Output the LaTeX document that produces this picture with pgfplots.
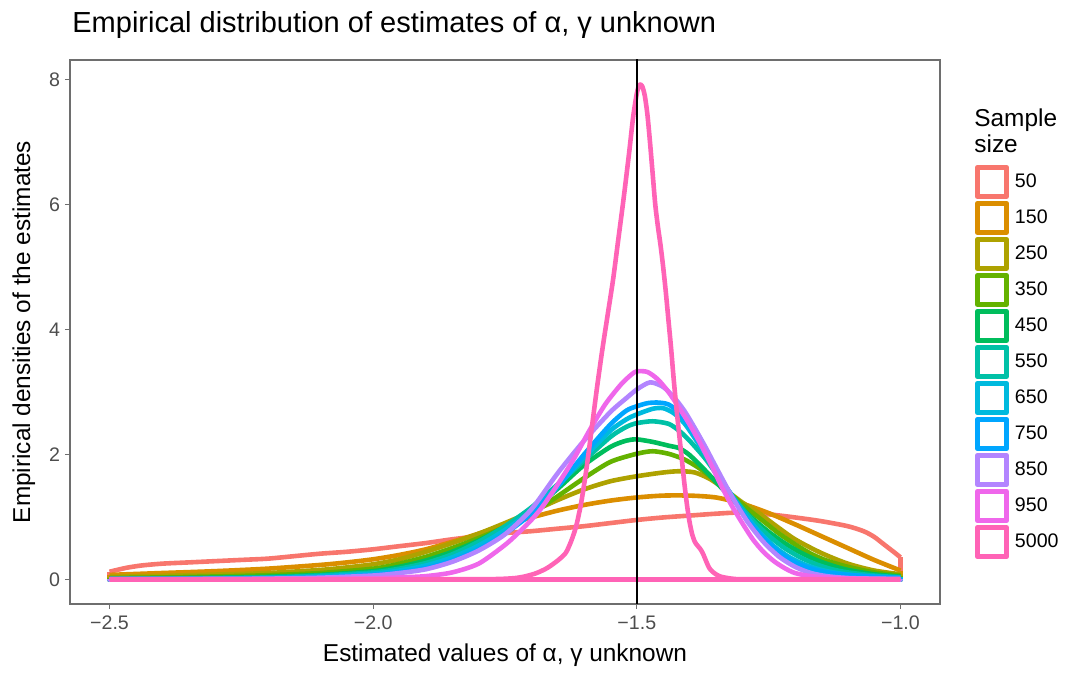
\documentclass[border=0pt]{standalone}
\usepackage{fontspec}
\setmainfont{Liberation Sans}
\usepackage{pgfplots}
\pgfplotsset{compat=1.18}
\definecolor{c50}{HTML}{F8766D}
\definecolor{c150}{HTML}{DB8E00}
\definecolor{c250}{HTML}{AEA200}
\definecolor{c350}{HTML}{64B200}
\definecolor{c450}{HTML}{00BD5C}
\definecolor{c550}{HTML}{00C1A7}
\definecolor{c650}{HTML}{00BADE}
\definecolor{c750}{HTML}{00A6FF}
\definecolor{c850}{HTML}{B385FF}
\definecolor{c950}{HTML}{EF67EB}
\definecolor{c5000}{HTML}{FF63B6}
\definecolor{tickgray}{HTML}{4D4D4D}
\definecolor{bordergray}{HTML}{6E6E6E}
\pgfplotsset{
  curve/.style={#1, smooth, tension=0.45},
  edge/.style={#1, forget plot},
}
\begin{document}
\begin{tikzpicture}
\useasboundingbox (0,0) rectangle (542pt,343pt);
\begin{axis}[
  at={(35pt,41pt)}, anchor=south west,
  scale only axis, width=435pt, height=272pt,
  xmin=-2.575, xmax=-0.925, ymin=-0.396, ymax=8.316,
  xtick={-2.5,-2,-1.5,-1}, xticklabels={−2.5,−2.0,−1.5,−1.0},
  ytick={0,2,4,6,8}, yticklabels={0,2,4,6,8},
  tick pos=left, tick align=outside, major tick length=2.5pt,
  tick style={color=bordergray, line width=0.6pt},
  axis line style={color=bordergray, line width=0.6pt},
  ticklabel style={font=\fontsize{9.8}{11}\selectfont, text=tickgray},
  yticklabel style={xshift=1pt},
  xlabel={Estimated values of α, γ unknown},
  ylabel={Empirical densities of the estimates},
  label style={font=\fontsize{12.2}{14}\selectfont},
  clip=true,
  every axis plot/.append style={line width=2.3pt, line join=round},
  legend cell align=left,
  legend image code/.code={\path[draw=none, fill=none] (0,-8.5pt) rectangle (20pt,8.5pt);\draw[#1, line width=2.3pt, fill=white] (1.15pt,-7.35pt) rectangle (15.85pt,7.35pt);},
  legend style={at={(1.0402,0.8140)}, anchor=north west, draw=none, fill=none, inner sep=0pt, outer sep=0pt, row sep=-0.85pt, font=\fontsize{9.8}{11}\selectfont, nodes={inner sep=0pt, anchor=west}},
]
% 50
\addplot[curve=c50] coordinates {(-2.5,0.12) (-2.47,0.18) (-2.44,0.22) (-2.4,0.25) (-2.35,0.27) (-2.3,0.29) (-2.25,0.31) (-2.2,0.33) (-2.15,0.37) (-2.1,0.41) (-2.05,0.44) (-2.0,0.48) (-1.95,0.53) (-1.9,0.58) (-1.85,0.64) (-1.8,0.69) (-1.75,0.74) (-1.7,0.77) (-1.65,0.81) (-1.6,0.85) (-1.55,0.9) (-1.5,0.95) (-1.45,0.99) (-1.4,1.02) (-1.35,1.05) (-1.3,1.07) (-1.25,1.04) (-1.2,0.99) (-1.15,0.93) (-1.1,0.85) (-1.07,0.77) (-1.05,0.68) (-1.03,0.55) (-1.01,0.42) (-1.0,0.35)};
\addlegendentry{50}
\addplot[edge=c50] coordinates {(-1.0,0.35) (-1.0,0) (-2.5,0) (-2.5,0.12)};
% 150
\addplot[curve=c150] coordinates {(-2.5,0.07) (-2.45,0.085) (-2.4,0.1) (-2.3,0.13) (-2.2,0.17) (-2.1,0.23) (-2.05,0.27) (-2.0,0.32) (-1.95,0.39) (-1.9,0.48) (-1.85,0.6) (-1.8,0.73) (-1.75,0.87) (-1.7,0.99) (-1.65,1.1) (-1.6,1.19) (-1.55,1.26) (-1.5,1.31) (-1.45,1.34) (-1.4,1.34) (-1.35,1.31) (-1.3,1.21) (-1.25,1.06) (-1.2,0.88) (-1.15,0.69) (-1.1,0.5) (-1.05,0.31) (-1.0,0.14)};
\addlegendentry{150}
\addplot[edge=c150] coordinates {(-1.0,0.14) (-1.0,0) (-2.5,0) (-2.5,0.07)};
% 250
\addplot[curve=c250] coordinates {(-2.5,0.04) (-2.4,0.055) (-2.3,0.075) (-2.2,0.1) (-2.1,0.15) (-2.05,0.19) (-2.0,0.24) (-1.95,0.32) (-1.9,0.44) (-1.85,0.58) (-1.8,0.73) (-1.75,0.9) (-1.7,1.08) (-1.65,1.27) (-1.6,1.44) (-1.55,1.57) (-1.5,1.65) (-1.45,1.71) (-1.42,1.73) (-1.39,1.71) (-1.36,1.6) (-1.33,1.42) (-1.3,1.23) (-1.27,1.07) (-1.24,0.88) (-1.2,0.64) (-1.15,0.42) (-1.1,0.25) (-1.05,0.14) (-1.0,0.08)};
\addlegendentry{250}
\addplot[edge=c250] coordinates {(-1.0,0.08) (-1.0,0) (-2.5,0) (-2.5,0.04)};
% 350
\addplot[curve=c350] coordinates {(-2.5,0.02) (-2.4,0.03) (-2.3,0.045) (-2.2,0.065) (-2.1,0.1) (-2.0,0.17) (-1.95,0.25) (-1.9,0.36) (-1.85,0.5) (-1.8,0.66) (-1.75,0.84) (-1.7,1.05) (-1.65,1.33) (-1.6,1.62) (-1.55,1.88) (-1.5,2.01) (-1.47,2.05) (-1.44,2.01) (-1.41,1.92) (-1.38,1.77) (-1.35,1.57) (-1.32,1.35) (-1.29,1.13) (-1.26,0.93) (-1.23,0.73) (-1.2,0.56) (-1.17,0.41) (-1.14,0.3) (-1.1,0.2) (-1.05,0.11) (-1.0,0.06)};
\addlegendentry{350}
\addplot[edge=c350] coordinates {(-1.0,0.06) (-1.0,0) (-2.5,0) (-2.5,0.02)};
% 450
\addplot[curve=c450] coordinates {(-2.5,0.01) (-2.4,0.015) (-2.3,0.025) (-2.2,0.04) (-2.1,0.07) (-2.0,0.13) (-1.95,0.2) (-1.9,0.3) (-1.85,0.44) (-1.8,0.62) (-1.75,0.84) (-1.7,1.1) (-1.65,1.45) (-1.6,1.83) (-1.55,2.12) (-1.52,2.22) (-1.5,2.24) (-1.47,2.2) (-1.44,2.14) (-1.42,2.1) (-1.4,1.99) (-1.37,1.74) (-1.34,1.47) (-1.31,1.21) (-1.28,0.97) (-1.25,0.76) (-1.22,0.58) (-1.19,0.43) (-1.16,0.31) (-1.13,0.22) (-1.1,0.15) (-1.05,0.08) (-1.0,0.04)};
\addlegendentry{450}
\addplot[edge=c450] coordinates {(-1.0,0.04) (-1.0,0) (-2.5,0) (-2.5,0.01)};
% 550
\addplot[curve=c550] coordinates {(-2.5,0.005) (-2.4,0.01) (-2.3,0.018) (-2.2,0.03) (-2.1,0.06) (-2.0,0.11) (-1.95,0.17) (-1.9,0.26) (-1.85,0.4) (-1.8,0.6) (-1.75,0.85) (-1.7,1.15) (-1.65,1.52) (-1.6,1.9) (-1.55,2.28) (-1.52,2.44) (-1.5,2.5) (-1.47,2.53) (-1.44,2.49) (-1.42,2.38) (-1.4,2.22) (-1.37,1.93) (-1.34,1.58) (-1.31,1.24) (-1.28,0.94) (-1.25,0.7) (-1.22,0.5) (-1.19,0.35) (-1.16,0.24) (-1.13,0.16) (-1.1,0.11) (-1.05,0.06) (-1.0,0.03)};
\addlegendentry{550}
\addplot[edge=c550] coordinates {(-1.0,0.03) (-1.0,0) (-2.5,0) (-2.5,0.005)};
% 650
\addplot[curve=c650] coordinates {(-2.5,0.003) (-2.4,0.006) (-2.3,0.012) (-2.2,0.02) (-2.1,0.045) (-2.0,0.09) (-1.95,0.14) (-1.9,0.22) (-1.85,0.35) (-1.8,0.54) (-1.75,0.79) (-1.7,1.1) (-1.65,1.5) (-1.6,1.95) (-1.55,2.38) (-1.52,2.56) (-1.5,2.64) (-1.47,2.73) (-1.45,2.74) (-1.43,2.66) (-1.41,2.5) (-1.39,2.26) (-1.36,1.87) (-1.33,1.47) (-1.3,1.1) (-1.27,0.78) (-1.24,0.53) (-1.21,0.35) (-1.18,0.23) (-1.15,0.15) (-1.12,0.1) (-1.08,0.06) (-1.04,0.04) (-1.0,0.03)};
\addlegendentry{650}
\addplot[edge=c650] coordinates {(-1.0,0.03) (-1.0,0) (-2.5,0) (-2.5,0.003)};
% 750
\addplot[curve=c750] coordinates {(-2.5,0.002) (-2.4,0.004) (-2.3,0.008) (-2.2,0.015) (-2.1,0.03) (-2.0,0.07) (-1.95,0.11) (-1.9,0.18) (-1.85,0.3) (-1.8,0.48) (-1.75,0.73) (-1.7,1.05) (-1.65,1.48) (-1.6,2.0) (-1.55,2.48) (-1.52,2.7) (-1.5,2.77) (-1.48,2.82) (-1.46,2.83) (-1.44,2.8) (-1.42,2.67) (-1.4,2.45) (-1.38,2.18) (-1.35,1.75) (-1.32,1.33) (-1.29,0.96) (-1.26,0.66) (-1.23,0.43) (-1.2,0.27) (-1.17,0.17) (-1.14,0.11) (-1.1,0.07) (-1.05,0.04) (-1.0,0.02)};
\addlegendentry{750}
\addplot[edge=c750] coordinates {(-1.0,0.02) (-1.0,0) (-2.5,0) (-2.5,0.002)};
% 850
\addplot[curve=c850] coordinates {(-2.5,0.001) (-2.3,0.004) (-2.2,0.01) (-2.1,0.025) (-2.0,0.06) (-1.95,0.1) (-1.9,0.16) (-1.85,0.28) (-1.8,0.46) (-1.75,0.72) (-1.7,1.12) (-1.65,1.7) (-1.6,2.22) (-1.55,2.68) (-1.52,2.9) (-1.5,3.04) (-1.48,3.14) (-1.47,3.15) (-1.45,3.08) (-1.43,2.92) (-1.41,2.7) (-1.39,2.42) (-1.37,2.12) (-1.35,1.8) (-1.32,1.33) (-1.29,0.92) (-1.26,0.6) (-1.23,0.36) (-1.2,0.2) (-1.17,0.1) (-1.14,0.05) (-1.1,0.02) (-1.05,0.01) (-1.0,0.005)};
\addlegendentry{850}
\addplot[edge=c850] coordinates {(-1.0,0.005) (-1.0,0) (-2.5,0) (-2.5,0.001)};
% 950
\addplot[curve=c950] coordinates {(-2.5,0) (-2.3,0.001) (-2.2,0.003) (-2.1,0.008) (-2.0,0.015) (-1.95,0.03) (-1.9,0.05) (-1.85,0.11) (-1.8,0.25) (-1.75,0.55) (-1.72,0.78) (-1.7,0.95) (-1.68,1.15) (-1.65,1.52) (-1.62,1.92) (-1.59,2.38) (-1.56,2.8) (-1.53,3.12) (-1.51,3.28) (-1.5,3.33) (-1.48,3.32) (-1.46,3.2) (-1.44,3.0) (-1.42,2.75) (-1.4,2.48) (-1.38,2.18) (-1.36,1.85) (-1.34,1.5) (-1.32,1.18) (-1.3,0.9) (-1.28,0.64) (-1.26,0.44) (-1.24,0.29) (-1.22,0.18) (-1.2,0.1) (-1.17,0.05) (-1.12,0.02) (-1.05,0.005) (-1.0,0)};
\addlegendentry{950}
\addplot[edge=c950] coordinates {(-1.0,0) (-2.5,0)};
% 5000
\addplot[curve=c5000] coordinates {(-2.5,0) (-2.2,0) (-1.9,0) (-1.8,0.001) (-1.76,0.005) (-1.73,0.02) (-1.71,0.05) (-1.69,0.1) (-1.67,0.18) (-1.65,0.3) (-1.635,0.42) (-1.625,0.6) (-1.615,0.85) (-1.605,1.25) (-1.595,1.8) (-1.585,2.45) (-1.575,3.1) (-1.565,3.7) (-1.555,4.25) (-1.545,4.8) (-1.535,5.45) (-1.525,6.1) (-1.515,6.8) (-1.507,7.4) (-1.5,7.78) (-1.495,7.92) (-1.49,7.9) (-1.485,7.75) (-1.48,7.45) (-1.475,7.0) (-1.47,6.5) (-1.465,6.0) (-1.46,5.65) (-1.455,5.35) (-1.45,5.0) (-1.445,4.6) (-1.44,4.15) (-1.435,3.7) (-1.43,3.2) (-1.425,2.75) (-1.42,2.35) (-1.415,1.95) (-1.41,1.55) (-1.405,1.2) (-1.4,0.92) (-1.395,0.72) (-1.39,0.6) (-1.385,0.54) (-1.38,0.49) (-1.375,0.42) (-1.37,0.32) (-1.365,0.22) (-1.36,0.15) (-1.35,0.08) (-1.34,0.04) (-1.32,0.01) (-1.3,0.001) (-1.2,0) (-1.1,0) (-1.0,0)};
\addlegendentry{5000}
\addplot[edge=c5000] coordinates {(-1.0,0) (-2.5,0)};
\addplot[black, line width=1pt, forget plot] coordinates {(-1.5,-1) (-1.5,10)};
\end{axis}
\node[anchor=base west, inner sep=0pt, font=\fontsize{14.5}{17}\selectfont] at (36pt,326.5pt) {Empirical distribution of estimates of α, γ unknown};
\node[anchor=base west, inner sep=0pt, font=\fontsize{12.2}{14}\selectfont] at (487pt,279.7pt) {Sample};
\node[anchor=base west, inner sep=0pt, font=\fontsize{12.2}{14}\selectfont] at (487pt,266.5pt) {size};
\end{tikzpicture}
\end{document}
